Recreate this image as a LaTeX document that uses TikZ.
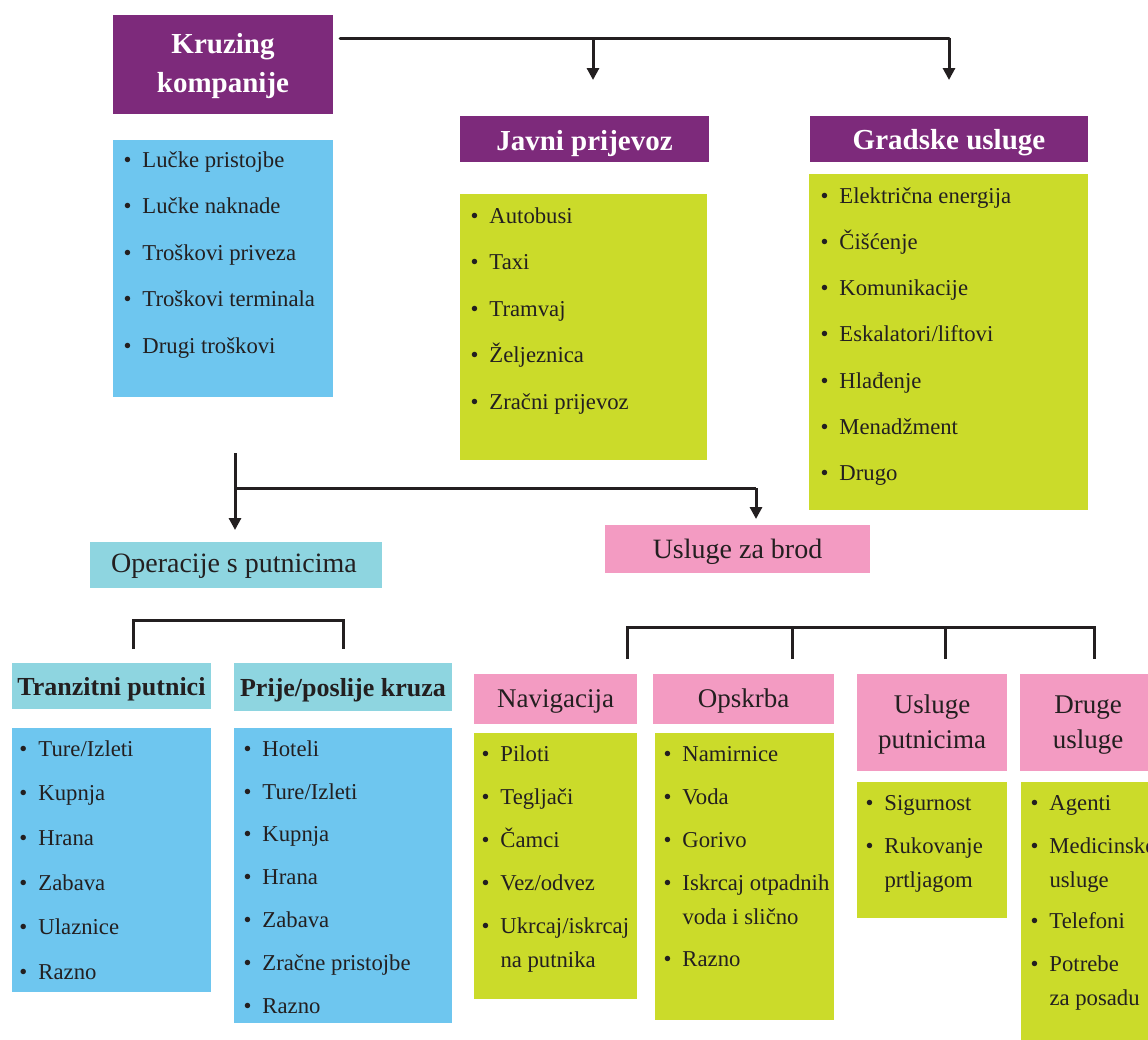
\documentclass[tikz,border=0pt]{standalone}
\usepackage{fontspec}
\setmainfont{Liberation Serif}
\usetikzlibrary{arrows.meta,calc}
\definecolor{purp}{RGB}{125,42,123}
\definecolor{lblue}{RGB}{110,198,239}
\definecolor{lgreen}{RGB}{203,219,42}
\definecolor{lcyan}{RGB}{142,213,224}
\definecolor{lpink}{RGB}{243,155,194}
\definecolor{ink}{RGB}{35,31,32}
\newlength\bw \setlength\bw{19pt}
\newcommand\itm[1]{\makebox[\bw][l]{\textbullet}#1}
\newcommand\cont[1]{\hspace*{\bw}#1}
\newcommand\fst{\rule{0pt}{20pt}}
\newcommand\mkbox[6]{\node[boxs,fill=#6,minimum width={#4-#2},minimum height={#5-#3}] (#1) at (#2,#3) {};}
\begin{document}
\begin{tikzpicture}[x=1pt,y=-1pt,
  boxs/.style={inner sep=0pt,outer sep=0pt,anchor=north west,draw=none},
  hdrw/.style={text=white,font=\fontsize{29}{39}\selectfont\bfseries,inner sep=0pt},
  hdrb/.style={text=ink,font=\fontsize{26}{34}\selectfont\bfseries,inner sep=0pt,anchor=base},
  hdrr/.style={text=ink,font=\fontsize{28}{35}\selectfont,inner sep=0pt,anchor=base},
  hdrs/.style={text=ink,font=\fontsize{27}{35}\selectfont,inner sep=0pt},
  lst/.style={text=ink,font=\fontsize{22.7}{34}\selectfont,inner sep=0pt,anchor=north west,align=left},
  conn/.style={draw=ink,line width=3pt},
  arr/.style={conn,-{Triangle[width=12pt,length=12pt]}}]
\useasboundingbox (0,0) rectangle (1148,1039);
\clip (0,0) rectangle (1148,1039);
% boxes
\mkbox{kruz}{113}{15}{333}{114}{purp}
\mkbox{lucke}{113}{140}{333}{397}{lblue}
\mkbox{javh}{460}{116}{709}{162}{purp}
\mkbox{javl}{460}{194}{707}{460}{lgreen}
\mkbox{grah}{810}{116}{1088}{162}{purp}
\mkbox{gral}{809}{174}{1088}{510}{lgreen}
\mkbox{oper}{90}{542}{382}{588}{lcyan}
\mkbox{brod}{605}{525}{870}{573}{lpink}
\mkbox{tranh}{12}{663}{211}{709}{lcyan}
\mkbox{tranl}{12}{728}{211}{992}{lblue}
\mkbox{prijh}{234}{663}{452}{711}{lcyan}
\mkbox{prijl}{234}{728}{452}{1023}{lblue}
\mkbox{navh}{474}{674}{637}{724}{lpink}
\mkbox{navl}{474}{733}{637}{999}{lgreen}
\mkbox{opsh}{653}{674}{834}{724}{lpink}
\mkbox{opsl}{655}{733}{834}{1020}{lgreen}
\mkbox{uslh}{857}{674}{1007}{771}{lpink}
\mkbox{usll}{857}{782}{1007}{918}{lgreen}
\mkbox{drh}{1020}{674}{1160}{771}{lpink}
\mkbox{drl}{1021}{782}{1160}{1050}{lgreen}
% header texts
\node[hdrw,anchor=north,align=center] (kruz-t) at (223,31) {\rule{0pt}{22pt}Kruzing\\kompanije};
\node[hdrw,anchor=base] (javh-t) at (584.5,150) {Javni prijevoz};
\node[hdrw,anchor=base] (grah-t) at (949,149) {Gradske usluge};
\node[hdrr] (oper-t) at (234,572) {Operacije s putnicima};
\node[hdrr] (brod-t) at (737.5,558) {Usluge za brod};
\node[hdrb] (tranh-t) at (111.5,695) {Tranzitni putnici};
\node[hdrb] (prijh-t) at (343,696) {Prije/poslije kruza};
\node[hdrs,anchor=base] (navh-t) at (555.5,707) {Navigacija};
\node[hdrs,anchor=base] (opsh-t) at (743.5,707) {Opskrba};
\node[hdrs,anchor=north,align=center] (uslh-t) at (932,693) {\fst Usluge\\putnicima};
\node[hdrs,anchor=north,align=center] (drh-t) at (1088,693) {\fst Druge\\usluge};
% lists
\node[lst] (lucke-t) at (123.3,147) {\fst\itm{Lučke pristojbe}\\[12.5pt]\itm{Lučke naknade}\\[12.5pt]\itm{Troškovi priveza}\\[12.5pt]\itm{Troškovi terminala}\\[12.5pt]\itm{Drugi troškovi}};
\node[lst] (javl-t) at (470.3,203) {\fst\itm{Autobusi}\\[12.5pt]\itm{Taxi}\\[12.5pt]\itm{Tramvaj}\\[12.5pt]\itm{Željeznica}\\[12.5pt]\itm{Zračni prijevoz}};
\node[lst] (gral-t) at (820.3,183) {\fst\itm{Električna energija}\\[12.2pt]\itm{Čišćenje}\\[12.2pt]\itm{Komunikacije}\\[12.2pt]\itm{Eskalatori/liftovi}\\[12.2pt]\itm{Hlađenje}\\[12.2pt]\itm{Menadžment}\\[12.2pt]\itm{Drugo}};
\node[lst] (tranl-t) at (19.3,736) {\fst\itm{Ture/Izleti}\\[10.6pt]\itm{Kupnja}\\[10.6pt]\itm{Hrana}\\[10.6pt]\itm{Zabava}\\[10.6pt]\itm{Ulaznice}\\[10.6pt]\itm{Razno}};
\node[lst] (prijl-t) at (243.3,736) {\fst\itm{Hoteli}\\[8.8pt]\itm{Ture/Izleti}\\[8.8pt]\itm{Kupnja}\\[8.8pt]\itm{Hrana}\\[8.8pt]\itm{Zabava}\\[8.8pt]\itm{Zračne pristojbe}\\[8.8pt]\itm{Razno}};
\node[lst] (navl-t) at (481.3,741) {\fst\itm{Piloti}\\[9pt]\itm{Tegljači}\\[9pt]\itm{Čamci}\\[9pt]\itm{Vez/odvez}\\[9pt]\itm{Ukrcaj/iskrcaj}\\\cont{na putnika}};
\node[lst] (opsl-t) at (663.3,741) {\fst\itm{Namirnice}\\[9pt]\itm{Voda}\\[9pt]\itm{Gorivo}\\[9pt]\itm{Iskrcaj otpadnih}\\\cont{voda i slično}\\[8pt]\itm{Razno}};
\node[lst] (usll-t) at (865.3,790) {\fst\itm{Sigurnost}\\[9pt]\itm{Rukovanje}\\\cont{prtljagom}};
\node[lst] (drl-t) at (1030.3,790) {\fst\itm{Agenti}\\[9pt]\itm{Medicinske}\\\cont{usluge}\\[7pt]\itm{Telefoni}\\[9pt]\itm{Potrebe}\\\cont{za posadu}};
% connectors: top
\coordinate (t0) at (340,38);
\coordinate (t1) at (593,38);
\coordinate (t2) at (949,38);
\coordinate (t1e) at (593,80);
\coordinate (t2e) at (949,80);
\draw[conn,line cap=round] (t0) -- (t2);
\draw[arr] (t1) -- (t1e);
\draw[arr] (t2) -- (t2e);
% middle
\coordinate (m0) at (235,453);
\coordinate (m1) at (235,488);
\coordinate (m2) at (756,488);
\coordinate (m0e) at (235,530);
\coordinate (m2e) at (756,519);
\draw[arr] (m0) -- (m0e);
\draw[conn] (m1) -- (m2);
\draw[arr] (m2) -- (m2e);
% bracket left
\coordinate (l1) at (133,649);
\coordinate (l2) at (343,649);
\draw[conn,line join=miter] (l1) |- (343,620) -- (l2);
% bracket right
\coordinate (r1) at (627,659);
\coordinate (r2) at (792,659);
\coordinate (r3) at (945,659);
\coordinate (r4) at (1094,659);
\draw[conn,line join=miter] (r1) |- (1094,627) -- (r4);
\draw[conn] (r2) -- (792,627);
\draw[conn] (r3) -- (945,627);
\end{tikzpicture}
\end{document}
